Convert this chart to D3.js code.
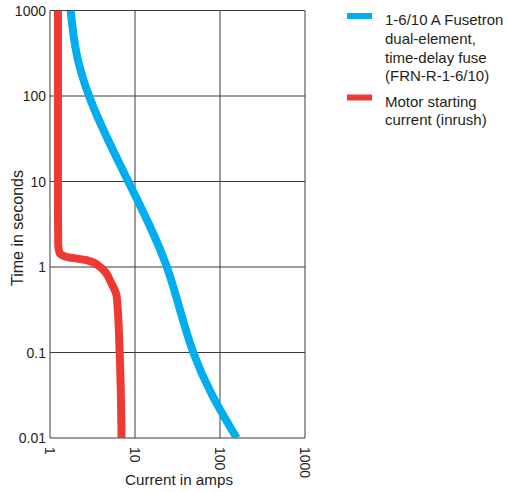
<!DOCTYPE html>
<html><head><meta charset="utf-8">
<script src="https://cdn.jsdelivr.net/npm/d3@7"></script>
<style>body{margin:0;background:#fff}text{font-family:"Liberation Sans",Arial,sans-serif;fill:#231f20}</style>
</head><body>
<svg id="c" width="508" height="492"></svg>
<script>
const xTicks = [1, 10, 100, 1000];
const yTicks = [0.01, 0.1, 1, 10, 100, 1000];
const yTickLabels = ["0.01", "0.1", "1", "10", "100", "1000"];
const xTickLabels = ["1", "10", "100", "1000"];
const fuseAmps = [1.75, 2.05, 2.88, 4.75, 8.34, 14.6, 23.7, 33.8, 48.5, 81, 157];
const fuseTime = [1000, 316, 100, 31.6, 10, 3.16, 1.0, 0.316, 0.1, 0.0316, 0.01];
const motorAmps = [1.24, 1.24, 1.25, 1.3, 1.57, 2.7, 3.9, 5.3, 6.1, 6.6, 6.95];
const motorTime = [1000, 5, 1.8, 1.45, 1.31, 1.2, 1.0, 0.64, 0.45, 0.1, 0.01];
const legendLabels = [["1-6/10 A Fusetron","dual-element,","time-delay fuse","(FRN-R-1-6/10)"],["Motor starting","current (inrush)"]];
const colors = ["#00aeef", "#ee3a32"];

const L = 50, R = 305, T = 10.5, B = 438;
const svg = d3.select("#c");
const x = d3.scaleLog().domain([1, 1000]).range([L, R]);
const y = d3.scaleLog().domain([0.01, 1000]).range([B, T]);

svg.append("defs").append("clipPath").attr("id","clip")
  .append("rect").attr("x",L).attr("y",T).attr("width",R-L).attr("height",B-T);

const g = svg.append("g");
g.selectAll("line.v").data(xTicks).join("line")
  .attr("x1",d=>x(d)).attr("x2",d=>x(d)).attr("y1",T).attr("y2",B)
  .attr("stroke","#3a3a3a").attr("stroke-width",1);
g.selectAll("line.h").data(yTicks).join("line")
  .attr("y1",d=>y(d)).attr("y2",d=>y(d)).attr("x1",L).attr("x2",R)
  .attr("stroke","#3a3a3a").attr("stroke-width",1);

svg.selectAll("text.yl").data(yTicks).join("text")
  .attr("x",L-4).attr("y",d=>y(d)+5).attr("text-anchor","end")
  .attr("font-size",14).text((d,i)=>yTickLabels[i]);
svg.selectAll("text.xl").data(xTicks).join("text")
  .attr("transform",d=>`translate(${x(d)-5},${B+9}) rotate(90)`)
  .attr("font-size",14).text((d,i)=>xTickLabels[i]);

svg.append("text").attr("x",(L+R)/2+1.5).attr("y",485).attr("text-anchor","middle")
  .attr("font-size",15.2).text("Current in amps");
svg.append("text").attr("transform",`translate(22.5,228) rotate(-90)`)
  .attr("text-anchor","middle").attr("font-size",16).text("Time in seconds");

const mline = d3.line().x(d=>x(d[0])).y(d=>y(d[1])).curve(d3.curveMonotoneY);
const fline = d3.line().x(d=>x(d[0])).y(d=>y(d[1])).curve(d3.curveNatural);
const cg = svg.append("g").attr("clip-path","url(#clip)");
cg.append("path").datum(motorAmps.map((a,i)=>[a,motorTime[i]]))
  .attr("d",mline).attr("fill","none").attr("stroke",colors[1]).attr("stroke-width",8);
cg.append("path").datum(fuseAmps.map((a,i)=>[a,fuseTime[i]]))
  .attr("d",fline).attr("fill","none").attr("stroke",colors[0]).attr("stroke-width",8);

const lg = svg.append("g");
const starts = [13, 94.5];
legendLabels.forEach((lines,k)=>{
  lg.append("rect").attr("x",347).attr("y",starts[k]).attr("width",25).attr("height",6).attr("fill",colors[k]);
  lines.forEach((t,j)=>{
    lg.append("text").attr("x",385).attr("y",starts[k]+12+j*18.8).attr("font-size",15).text(t);
  });
});
</script>
</body></html>
